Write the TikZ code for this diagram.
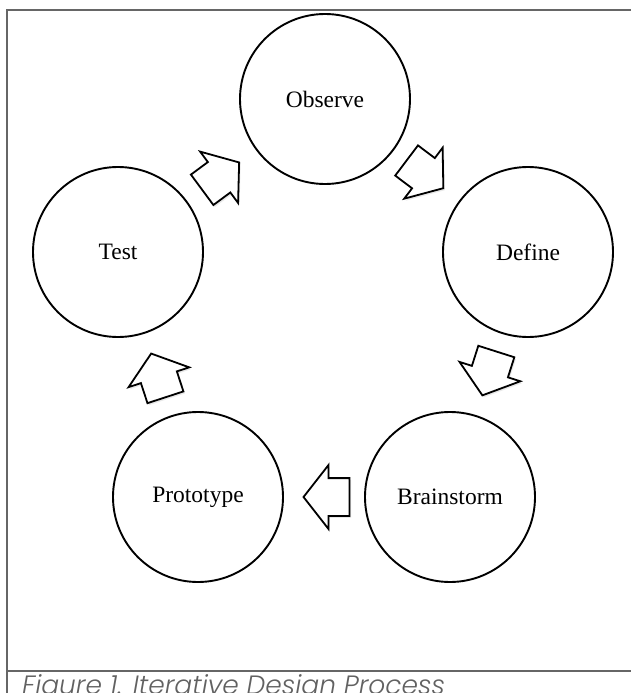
\documentclass[tikz,border=0pt]{standalone}
\usepackage{fontspec}
\setmainfont{Liberation Serif}
\newfontfamily\capfont{Poppins Light Italic}
\usetikzlibrary{positioning,shapes.arrows,shadows}

\tikzset{
  stage/.style={circle, draw, line width=1.9pt, minimum size=170pt, inner sep=0pt,
    font=\fontsize{23.5}{28}\selectfont},
  flow/.style={single arrow, draw, fill=white, line width=1.8pt,
    inner xsep=0pt, inner ysep=18pt,
    minimum height=46pt, minimum width=62pt, single arrow head extend=13pt,
    single arrow tip angle=104, sloped, allow upside down, anchor=tip, pos=.77,
    drop shadow={shadow xshift=1.5pt, shadow yshift=-2pt, opacity=.18}},
  frame/.style={draw=black!60, line width=1.5pt}
}

\begin{document}
\begin{tikzpicture}[x=1pt, y=-1pt, node distance=100pt, on grid]
\useasboundingbox (0,0) rectangle (630,693);
\draw[frame] (7,693) -- (7,10) -- (632,10);
\draw[frame] (7,671) -- (632,671);
\node[stage] (obs) at (325,99) {Observe};
\node[stage, below right=153pt and 203pt of obs] (def) {Define};
\node[stage, below left=245pt and 78pt of def] (brn) {Brainstorm};
\node[stage, left=252pt of brn] (pro) {Prototype};
\node[stage, above left=245pt and 80pt of pro] (tst) {Test};
\path (obs) -- node[flow] (od) {} (def);
\path (def) -- node[flow] (db) {} (brn);
\path (brn) -- node[flow] (bp) {} (pro);
\path (pro) -- node[flow] (pt) {} (tst);
\path (tst) -- node[flow] (to) {} (obs);
\node[anchor=base west, text=black!62, font=\capfont\fontsize{26.5}{30}\selectfont, inner sep=0pt]
  (cap) at (22,694) {Figure 1. Iterative Design Process}; %cut at the page edge
\end{tikzpicture}
\end{document}
